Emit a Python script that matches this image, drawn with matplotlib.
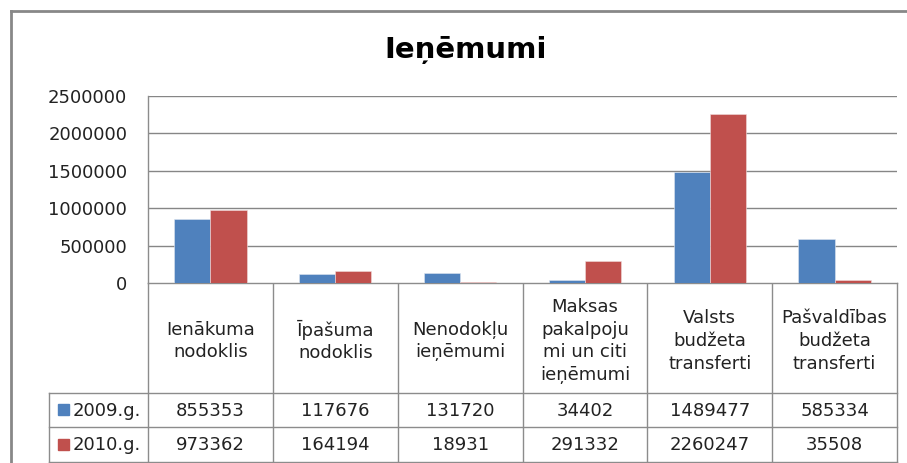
import matplotlib.pyplot as plt
import numpy as np

# chart data
categories = ['Ienākuma\nnodoklis', 'Īpašuma\nnodoklis', 'Nenodokļu\nieņēmumi',
              'Maksas\npakalpoju\nmi un citi\nieņēmumi', 'Valsts\nbudžeta\ntransferti',
              'Pašvaldības\nbudžeta\ntransferti']
series_names = ['2009.g.', '2010.g.']
vals_2009 = [855353, 117676, 131720, 34402, 1489477, 585334]
vals_2010 = [973362, 164194, 18931, 291332, 2260247, 35508]
yticks = [0, 500000, 1000000, 1500000, 2000000, 2500000]

W, H = 907, 463
blue = '#4F81BD'
red = '#C0504D'
grid_c = '#868686'
line_c = '#8C8C8C'
txt_c = '#222222'

fig = plt.figure(figsize=(W / 100, H / 100), dpi=100)
fig.patch.set_facecolor('white')

# plot area in pixel coords (top-left origin)
px_l, px_r, px_t, px_b = 148, 897, 96, 283
ax = fig.add_axes([px_l / W, 1 - px_b / H, (px_r - px_l) / W, (px_b - px_t) / H])

x = np.arange(len(categories))
bw = 0.29
ax.bar(x - bw / 2, vals_2009, bw, color=blue, edgecolor='#dfe6f0', linewidth=0.4, zorder=3)
ax.bar(x + bw / 2, vals_2010, bw, color=red, edgecolor='#f0dcdc', linewidth=0.4, zorder=3)
ax.set_xlim(-0.5, len(categories) - 0.5)
ax.set_ylim(0, 2500000)
ax.set_yticks(yticks)
ax.set_yticklabels([str(v) for v in yticks], fontsize=13, color=txt_c)
ax.tick_params(axis='y', length=0, pad=15)
ax.set_xticks([])
ax.yaxis.grid(True, color=grid_c, linewidth=1.0, zorder=0)
for s in ['top', 'right', 'bottom']:
    ax.spines[s].set_visible(False)
ax.spines['left'].set_color(line_c)
ax.spines['left'].set_linewidth(1.0)

# overlay for the data table and frame, in pixels
ov = fig.add_axes([0, 0, 1, 1], zorder=-1)
ov.set_xlim(0, W)
ov.set_ylim(H, 0)
ov.axis('off')

# outer frame
ov.plot([11, W], [11, 11], color='#888888', lw=2)
ov.plot([11, 11], [11, H], color='#888888', lw=2)

ov.text(466, 50, 'Ieņēmumi', ha='center', va='center', fontsize=21, fontweight='bold')

ncol = len(categories)
cw = (px_r - px_l) / ncol
leg_l = 49
row_y = [px_b, 393, 427, 462]
# horizontal lines
ov.plot([px_l, px_r], [px_b, px_b], color=line_c, lw=1)
for yy in row_y[1:]:
    ov.plot([leg_l, px_r], [yy, yy], color=line_c, lw=1)
# vertical lines
for i in range(ncol + 1):
    xx = px_l + i * cw
    ov.plot([xx, xx], [px_b, row_y[-1]], color=line_c, lw=1)
ov.plot([leg_l, leg_l], [row_y[1], row_y[-1]], color=line_c, lw=1)

for i, lab in enumerate(categories):
    cx = px_l + (i + 0.5) * cw
    ov.text(cx, (row_y[0] + row_y[1]) / 2 + 3, lab, ha='center', va='center',
            fontsize=13, linespacing=1.35, color=txt_c)
    ov.text(cx, (row_y[1] + row_y[2]) / 2 + 1, str(vals_2009[i]), ha='center', va='center',
            fontsize=13, color=txt_c)
    ov.text(cx, (row_y[2] + row_y[3]) / 2 + 1, str(vals_2010[i]), ha='center', va='center',
            fontsize=13, color=txt_c)

for j, (name, c) in enumerate(zip(series_names, [blue, red])):
    cy = (row_y[j + 1] + row_y[j + 2]) / 2
    ov.add_patch(plt.Rectangle((58, cy - 6), 11, 11, color=c))
    ov.text(73, cy + 1, name, ha='left', va='center', fontsize=13, color=txt_c)

fig.savefig('out.png', dpi=100)
